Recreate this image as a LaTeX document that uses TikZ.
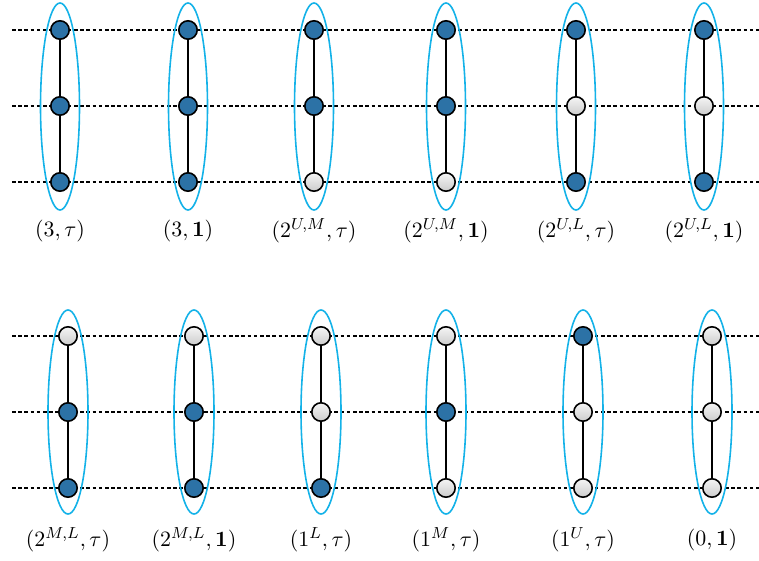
\documentclass[tikz,border=0pt]{standalone}
\usepackage{amsmath}
\usetikzlibrary{shapes.geometric}
\begin{document}
\begin{tikzpicture}[x=0.5pt,y=-0.5pt,
  hline/.style={line width=0.65pt, dash pattern=on 1.8pt off 1.3pt},
  vline/.style={line width=0.7pt},
  ring/.style={draw={rgb,255:red,20;green,178;blue,232}, line width=0.8pt},
  bnode/.style={circle, draw=black, line width=0.8pt, fill={rgb,255:red,44;green,114;blue,166}, minimum size=9.2pt, inner sep=0pt},
  gnode/.style={circle, draw=black, line width=0.8pt, top color=gray!8, bottom color=gray!40, minimum size=9.2pt, inner sep=0pt},
  lab/.style={font=\fontsize{11}{13}\selectfont, inner sep=0pt}]
\useasboundingbox (0,0) rectangle (759,561);
% dashed horizontal lines
\foreach \y/\n in {30/a,106/b,182/c,336/d,412/e,488/f}{
  \coordinate (hl\n) at (12,\y);
  \coordinate (hr\n) at (759,\y);
  \draw[hline] (hl\n) -- (hr\n);
}
% top row
\foreach \i/\x/\sa/\sb/\sc/\txt in {
  1/60/bnode/bnode/bnode/{$(3,\tau)$},
  2/188/bnode/bnode/bnode/{$(3,\mathbf{1})$},
  3/314/bnode/bnode/gnode/{$(2^{U,M},\tau)$},
  4/446/bnode/bnode/gnode/{$(2^{U,M},\mathbf{1})$},
  5/576/bnode/gnode/bnode/{$(2^{U,L},\tau)$},
  6/704/bnode/gnode/bnode/{$(2^{U,L},\mathbf{1})$}}{
  \node[ring, ellipse, minimum width=19.5pt, minimum height=103.5pt, inner sep=0pt] (e\i) at (\x,106.5) {};
  \node[\sa] (t\i u) at (\x,30) {};
  \node[\sb] (t\i m) at (\x,106) {};
  \node[\sc] (t\i l) at (\x,182) {};
  \draw[vline] (t\i u) -- (t\i m) -- (t\i l);
  \node[lab] (tl\i) at (\x,231) {\txt};
}
% bottom row
\foreach \i/\x/\sa/\sb/\sc/\txt in {
  1/68/gnode/bnode/bnode/{$(2^{M,L},\tau)$},
  2/194/gnode/bnode/bnode/{$(2^{M,L},\mathbf{1})$},
  3/321/gnode/gnode/bnode/{$(1^{L},\tau)$},
  4/446/gnode/bnode/gnode/{$(1^{M},\tau)$},
  5/583/bnode/gnode/gnode/{$(1^{U},\tau)$},
  6/712/gnode/gnode/gnode/{$(0,\mathbf{1})$}}{
  \node[ring, ellipse, minimum width=20pt, minimum height=102pt, inner sep=0pt] (f\i) at (\x,412) {};
  \node[\sa] (b\i u) at (\x,336) {};
  \node[\sb] (b\i m) at (\x,412) {};
  \node[\sc] (b\i l) at (\x,488) {};
  \draw[vline] (b\i u) -- (b\i m) -- (b\i l);
  \node[lab] (bl\i) at (\x,540) {\txt};
}
\end{tikzpicture}
\end{document}
